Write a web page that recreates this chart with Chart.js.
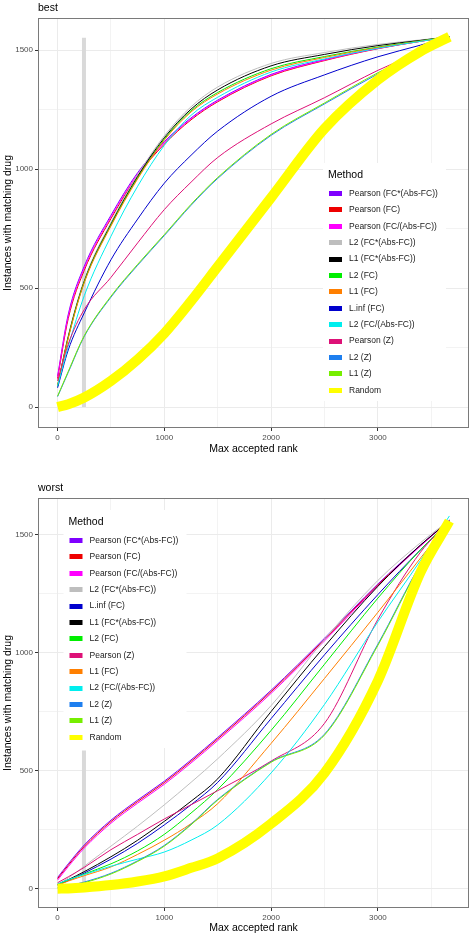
<!DOCTYPE html>
<html>
<head>
<meta charset="utf-8">
<title>best / worst</title>
<script src="https://cdn.jsdelivr.net/npm/chart.js@4.4.1/dist/chart.umd.min.js"></script>
<style>
  html, body { margin: 0; padding: 0; background: #fff; overflow: hidden; }
  .panel { position: absolute; left: 0; width: 475px; }
  #best-panel { top: 0; height: 460px; }
  #worst-panel { top: 460px; height: 479px; }
</style>
</head>
<body>
<div id="best-panel" class="panel"><canvas id="best-canvas"></canvas></div>
<div id="worst-panel" class="panel"><canvas id="worst-canvas"></canvas></div>
<script>
// Max accepted rank, shared by every curve
const ranks = [0, 100, 250, 500, 750, 1000, 1250, 1500, 2000, 2500, 3000, 3400, 3670];

// Grey marker at the rank cut-off
const cutoffRank = 247;
const bestCutoffSpan = [0, 1552];
const worstCutoffSpan = [0, 585];

// ---- "best" panel, legend order ----
const bestMethods = [
  'Pearson (FC*(Abs-FC))', 'Pearson (FC)', 'Pearson (FC/(Abs-FC))', 'L2 (FC*(Abs-FC))',
  'L1 (FC*(Abs-FC))', 'L2 (FC)', 'L1 (FC)', 'L.inf (FC)', 'L2 (FC/(Abs-FC))',
  'Pearson (Z)', 'L2 (Z)', 'L1 (Z)', 'Random',
];
const bestPearsonFCxAbs = [130, 390, 592, 806, 985, 1115, 1215, 1290, 1398, 1460, 1508, 1538, 1556];
const bestPearsonFC = [120, 372, 575, 792, 973, 1105, 1207, 1283, 1392, 1456, 1506, 1537, 1556];
const bestPearsonFCdivAbs = [126, 382, 584, 799, 979, 1110, 1211, 1286, 1395, 1458, 1507, 1537, 1556];
const bestL2FCxAbs = [88, 300, 535, 776, 976, 1140, 1262, 1345, 1444, 1490, 1524, 1543, 1556];
const bestL1FCxAbs = [88, 296, 529, 769, 969, 1132, 1252, 1333, 1434, 1482, 1519, 1541, 1556];
const bestL2FC = [88, 292, 526, 765, 963, 1126, 1245, 1322, 1422, 1473, 1513, 1539, 1556];
const bestL1FC = [90, 290, 523, 761, 959, 1122, 1240, 1316, 1416, 1469, 1511, 1538, 1556];
const bestLinfFC = [81, 240, 396, 619, 790, 941, 1058, 1160, 1306, 1396, 1472, 1521, 1556];
const bestL2FCdivAbs = [88, 255, 468, 718, 928, 1100, 1226, 1302, 1408, 1463, 1508, 1537, 1556];
const bestPearsonZ = [110, 265, 410, 545, 690, 830, 945, 1049, 1190, 1300, 1415, 1495, 1556];
const bestL2Z = [44, 146, 297, 462, 596, 721, 848, 961, 1142, 1274, 1400, 1492, 1556];
const bestL1Z = [46, 150, 300, 466, 600, 725, 852, 965, 1146, 1278, 1405, 1495, 1556];
const bestRandom = [0, 12, 40, 110, 200, 310, 445, 590, 880, 1170, 1375, 1495, 1556];
const bestSeries = [
  bestPearsonFCxAbs, bestPearsonFC, bestPearsonFCdivAbs, bestL2FCxAbs, bestL1FCxAbs,
  bestL2FC, bestL1FC, bestLinfFC, bestL2FCdivAbs, bestPearsonZ, bestL2Z, bestL1Z, bestRandom,
];

// ---- "worst" panel, legend order ----
const worstMethods = [
  'Pearson (FC*(Abs-FC))', 'Pearson (FC)', 'Pearson (FC/(Abs-FC))', 'L2 (FC*(Abs-FC))',
  'L.inf (FC)', 'L1 (FC*(Abs-FC))', 'L2 (FC)', 'Pearson (Z)', 'L1 (FC)',
  'L2 (FC/(Abs-FC))', 'L2 (Z)', 'L1 (Z)', 'Random',
];
const worstPearsonFCxAbs = [47, 105, 185, 290, 375, 455, 545, 640, 840, 1060, 1290, 1455, 1560];
const worstPearsonFC = [42, 99, 179, 284, 369, 449, 539, 634, 834, 1055, 1286, 1453, 1559];
const worstPearsonFCdivAbs = [36, 93, 172, 277, 362, 442, 532, 627, 827, 1049, 1282, 1451, 1558];
const worstL2FCxAbs = [18, 45, 95, 180, 265, 355, 450, 550, 775, 1055, 1305, 1465, 1560];
const worstLinfFC = [15, 34, 66, 125, 192, 270, 355, 450, 720, 990, 1245, 1435, 1552];
const worstL1FCxAbs = [18, 38, 72, 135, 205, 285, 370, 465, 750, 1025, 1280, 1455, 1556];
const worstL2FC = [18, 36, 62, 105, 160, 230, 320, 420, 670, 950, 1230, 1435, 1555];
const worstPearsonZ = [25, 50, 90, 165, 230, 295, 355, 415, 540, 700, 1140, 1425, 1555];
const worstL1FC = [15, 32, 55, 92, 145, 205, 275, 360, 615, 890, 1170, 1400, 1555];
const worstL2FCdivAbs = [20, 38, 60, 95, 125, 155, 205, 270, 490, 780, 1130, 1390, 1578];
const worstL2Z = [4, 12, 28, 65, 118, 183, 273, 378, 537, 654, 1035, 1374, 1552];
const worstL1Z = [2, 10, 25, 62, 115, 180, 270, 375, 535, 650, 1030, 1370, 1550];
const worstRandom = [0, 1, 5, 15, 30, 52, 88, 128, 275, 490, 880, 1340, 1556];
const worstSeries = [
  worstPearsonFCxAbs, worstPearsonFC, worstPearsonFCdivAbs, worstL2FCxAbs, worstLinfFC,
  worstL1FCxAbs, worstL2FC, worstPearsonZ, worstL1FC, worstL2FCdivAbs, worstL2Z, worstL1Z, worstRandom,
];

// Axis breaks: labelled ones and the full grid (major + minor)
const xTickLabels = [0, 1000, 2000, 3000];
const xGridValues = [0, 500, 1000, 1500, 2000, 2500, 3000, 3500];
const yTickLabels = [0, 500, 1000, 1500];
const yGridValues = [0, 250, 500, 750, 1000, 1250, 1500];

const FONT = '"Liberation Sans", Arial, Helvetica, sans-serif';
const methodColors = {
  'Pearson (FC*(Abs-FC))': '#7f00ff',
  'Pearson (FC)': '#ee0000',
  'Pearson (FC/(Abs-FC))': '#ff00ff',
  'L2 (FC*(Abs-FC))': '#bebebe',
  'L1 (FC*(Abs-FC))': '#000000',
  'L2 (FC)': '#00ee00',
  'L1 (FC)': '#ff7f00',
  'L.inf (FC)': '#0000cd',
  'L2 (FC/(Abs-FC))': '#00eeee',
  'Pearson (Z)': '#dd1177',
  'L2 (Z)': '#1e7fef',
  'L1 (Z)': '#76ee00',
  'Random': '#ffff00',
};

Chart.defaults.font.family = FONT;

/**
 * Draws the panel frame, the panel title and the "Method" key inside the plot area.
 */
const panelDecor = {
  id: 'panelDecor',
  afterDatasetsDraw(chart, args, opts) {
    const { ctx, chartArea: area } = chart;
    ctx.save();

    // Legend box sits on top of the curves, like ggplot's inside legend
    const x0 = area.left + opts.legendX;
    const y0 = area.top + opts.legendY;
    ctx.fillStyle = '#ffffff';
    ctx.fillRect(x0, y0, 123, 238);
    ctx.textBaseline = 'middle';
    ctx.textAlign = 'left';
    ctx.fillStyle = '#000000';
    ctx.font = `10.5px ${FONT}`;
    ctx.fillText('Method', x0 + 5, y0 + 12.5);
    ctx.font = `8.5px ${FONT}`;
    opts.methods.forEach((name, i) => {
      const cy = y0 + 30.5 + i * 16.4;
      ctx.fillStyle = methodColors[name];
      ctx.fillRect(x0 + 6, Math.round(cy - 2.5), 13, 5);
      ctx.fillStyle = '#1a1a1a';
      ctx.fillText(name, x0 + 26, cy);
    });

    // Panel border
    ctx.strokeStyle = '#7a7a7a';
    ctx.lineWidth = 1;
    ctx.strokeRect(Math.round(area.left) + 0.5, Math.round(area.top) + 0.5,
      Math.round(area.right - area.left) - 1, Math.round(area.bottom - area.top) - 1);

    // Panel title
    ctx.fillStyle = '#000000';
    ctx.font = `10.5px ${FONT}`;
    ctx.textBaseline = 'alphabetic';
    ctx.fillText(opts.title, area.left, area.top - 7);
    ctx.restore();
  },
};

function buildDatasets(methods, series, cutoffSpan) {
  const n = methods.length;
  const sets = methods.map((name, i) => {
    const isRandom = name === 'Random';
    return {
      label: name,
      data: ranks.map((r, j) => ({ x: r, y: series[i][j] })),
      borderColor: methodColors[name],
      borderWidth: isRandom ? 10 : 1,
      borderJoinStyle: 'round',
      pointRadius: 0,
      cubicInterpolationMode: 'monotone',
      fill: false,
      order: n - i,
    };
  });
  sets.push({
    label: 'cutoff',
    data: cutoffSpan.map((v) => ({ x: cutoffRank, y: v })),
    borderColor: '#d9d9d9',
    borderWidth: 4,
    pointRadius: 0,
    fill: false,
    order: 100,
  });
  return sets;
}

function gridWidth(ctx, majors) {
  return ctx.tick && majors.includes(ctx.tick.value) ? 1 : 0.6;
}

function tickColor(ctx, majors) {
  return ctx.tick && majors.includes(ctx.tick.value) ? '#333333' : 'rgba(0,0,0,0)';
}

function makeChart(canvasId, cfg) {
  return new Chart(document.getElementById(canvasId), {
    type: 'line',
    data: { datasets: buildDatasets(cfg.methods, cfg.series, cfg.cutoffSpan) },
    options: {
      responsive: true,
      maintainAspectRatio: false,
      animation: false,
      events: [],
      layout: { padding: { top: cfg.padTop, right: 6, bottom: 0, left: 0 } },
      plugins: {
        legend: { display: false },
        tooltip: { enabled: false },
        panelDecor: { title: cfg.title, methods: cfg.methods, legendX: cfg.legendX, legendY: cfg.legendY },
      },
      scales: {
        x: {
          type: 'linear',
          min: -183.5,
          max: 3853.5,
          afterBuildTicks: (scale) => { scale.ticks = xGridValues.map((v) => ({ value: v })); },
          afterFit: (scale) => { scale.height = cfg.xAxisHeight; },
          border: { display: false },
          grid: {
            color: '#ebebeb',
            lineWidth: (ctx) => gridWidth(ctx, xTickLabels),
            tickColor: (ctx) => tickColor(ctx, xTickLabels),
            tickLength: 3,
          },
          ticks: {
            autoSkip: false,
            maxRotation: 0,
            padding: 2,
            color: '#4d4d4d',
            font: { size: 8 },
            callback: (v) => (xTickLabels.includes(v) ? String(v) : ''),
          },
          title: {
            display: true,
            text: 'Max accepted rank',
            color: '#000000',
            font: { size: 10.5 },
            padding: { top: 0, bottom: 5 },
          },
        },
        y: {
          type: 'linear',
          min: cfg.yMin,
          max: cfg.yMax,
          afterBuildTicks: (scale) => { scale.ticks = yGridValues.map((v) => ({ value: v })); },
          afterFit: (scale) => { scale.width = 38; },
          border: { display: false },
          grid: {
            color: '#ebebeb',
            lineWidth: (ctx) => gridWidth(ctx, yTickLabels),
            tickColor: (ctx) => tickColor(ctx, yTickLabels),
            tickLength: 3,
          },
          ticks: {
            autoSkip: false,
            padding: 2,
            color: '#4d4d4d',
            font: { size: 8 },
            callback: (v) => (yTickLabels.includes(v) ? String(v) : ''),
          },
          title: {
            display: true,
            text: 'Instances with matching drug',
            color: '#000000',
            font: { size: 10.5 },
            padding: { top: 2, bottom: 0 },
          },
        },
      },
    },
    plugins: [panelDecor],
  });
}

makeChart('best-canvas', {
  title: 'best',
  methods: bestMethods,
  series: bestSeries,
  cutoffSpan: bestCutoffSpan,
  padTop: 18,
  xAxisHeight: 32,
  yMin: -88,
  yMax: 1635,
  legendX: 285,
  legendY: 145,
});

makeChart('worst-canvas', {
  title: 'worst',
  methods: worstMethods,
  series: worstSeries,
  cutoffSpan: worstCutoffSpan,
  padTop: 38,
  xAxisHeight: 31,
  yMin: -82,
  yMax: 1654,
  legendX: 25.5,
  legendY: 12,
});
</script>
</body>
</html>
